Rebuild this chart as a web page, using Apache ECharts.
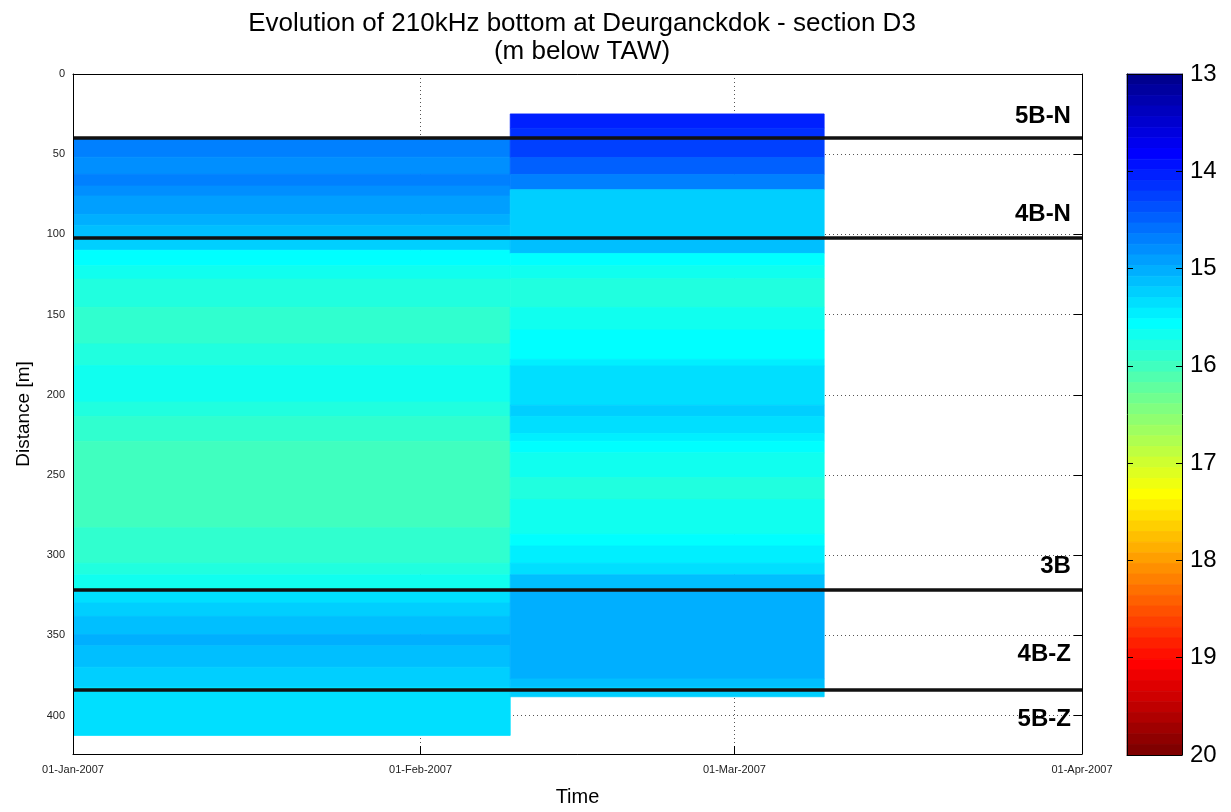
<!DOCTYPE html>
<html>
<head>
<meta charset="utf-8">
<script src="https://cdn.jsdelivr.net/npm/echarts@6/dist/echarts.min.js"></script>
<style>
html,body{margin:0;padding:0;background:#fff;}
#chart{width:1231px;height:812px;}
</style>
</head>
<body>
<div id="chart"></div>
<script>
// ---- data ----
const periodStart = ['2007-01-01', '2007-02-09'];
const periodEnd   = ['2007-02-09', '2007-03-09'];

// survey 1 (01-Jan -> 09-Feb): row edges [m] and bottom level [m below TAW]
const col1Edges = [40, 51.9, 62.6, 69.9, 76.1, 87.5, 94.3, 103.2, 109.9, 119.6,
  127.9, 145.5, 168.3, 181.8, 204.5, 213.5, 229.0, 282.9, 305.1, 312.3,
  321.5, 329.9, 338.2, 349.6, 356.5, 369.9, 382.3, 412.4];
const col1Depth = [14.70, 14.80, 14.70, 14.80, 14.91, 15.02, 15.13, 15.24, 15.57, 15.68,
  15.79, 15.90, 15.79, 15.68, 15.79, 15.90, 16.01, 15.90, 15.79, 15.68,
  15.35, 15.24, 15.13, 15.02, 15.13, 15.24, 15.35];

// survey 2 (09-Feb -> 09-Mar)
const col2Edges = [24.9, 33.8, 40, 52.0, 62.6, 72.1, 102, 111.9, 119.6, 127.6,
  145.5, 159.6, 177.9, 182.0, 206.5, 213.5, 224.2, 229.0, 236.2, 251.6,
  265.3, 287.0, 294.3, 305.1, 312.3, 321.5, 377.2, 382.3, 388.3];
const col2Depth = [14.04, 14.15, 14.26, 14.48, 14.70, 15.24, 15.13, 15.57, 15.68, 15.79,
  15.68, 15.57, 15.46, 15.35, 15.24, 15.35, 15.46, 15.57, 15.68, 15.79,
  15.68, 15.57, 15.46, 15.35, 15.13, 15.02, 15.13, 15.24];

// zone boundaries and zone labels
const boundaryDist = [39.9, 102.1, 321.7, 383.7];
const zoneNames = ['5B-N', '4B-N', '3B', '4B-Z', '5B-Z'];
const zoneLabelDist = [26.4, 87.5, 306.7, 362.1, 402.5];

// axes
const xTickDates  = ['2007-01-01', '2007-02-01', '2007-03-01', '2007-04-01'];
const xTickLabels = ['01-Jan-2007', '01-Feb-2007', '01-Mar-2007', '01-Apr-2007'];
const yMax = 424;
const cMin = 13, cMax = 20;

// ---- helpers ----
function pd(s){ const p = s.split('-').map(Number); return new Date(p[0], p[1]-1, p[2]).getTime(); }

// MATLAB jet(64)
function jet(n){
  const m = Math.ceil(n/4);
  const u = [];
  for (let i=1;i<=m;i++) u.push(i/m);
  for (let i=1;i<=m-1;i++) u.push(1);
  for (let i=m;i>=1;i--) u.push(i/m);
  const off = Math.ceil(m/2) - ((n%4)===1?1:0);
  const J = []; for (let i=0;i<n;i++) J.push([0,0,0]);
  for (let k=0;k<u.length;k++){
    const g = off + k + 1, r = g + m, b = g - m;
    if (r>=1 && r<=n) J[r-1][0] = u[k];
    if (g>=1 && g<=n) J[g-1][1] = u[k];
    if (b>=1 && b<=n) J[b-1][2] = u[k];
  }
  return J.map(c => 'rgb(' + c.map(v => Math.round(v*255)).join(',') + ')');
}
const cmap = jet(64);
const step = (cMax - cMin) / 64;
const pieces = cmap.map((c,i) => i < 63 ? {gte: cMin + i*step, lt: cMin + (i+1)*step, color: c}
                                        : {gte: cMin + i*step, lte: cMax, color: c});

// cells
const cells = [];
[[col1Edges, col1Depth], [col2Edges, col2Depth]].forEach((col, ci) => {
  const t0 = pd(periodStart[ci]), t1 = pd(periodEnd[ci]);
  col[1].forEach((v, i) => cells.push([t0, t1, col[0][i], col[0][i+1], v]));
});
// colour bar blocks
const cbar = cmap.map((c,i) => [0, 1, cMin + i*step, cMin + (i+1)*step, cMin + (i+0.5)*step]);

const xMin = pd(xTickDates[0]), xMaxT = pd(xTickDates[xTickDates.length-1]);
const labelMap = {}; xTickDates.forEach((d,i) => labelMap[pd(d)] = xTickLabels[i]);

function renderRect(params, api){
  const p0 = api.coord([api.value(0), api.value(2)]);
  const p1 = api.coord([api.value(1), api.value(3)]);
  const col = api.visual('color');
  return {type:'rect', shape:{x:p0[0], y:p0[1], width:p1[0]-p0[0], height:p1[1]-p0[1]},
          style:{fill: col, stroke: col, lineWidth: 0.8}};
}

const FONT = 'Liberation Sans, Arial, sans-serif';
const chart = echarts.init(document.getElementById('chart'), null, {renderer:'canvas'});
chart.setOption({
  animation: false,
  backgroundColor: '#fff',
  textStyle: {fontFamily: FONT},
  title: {
    text: 'Evolution of 210kHz bottom at Deurganckdok - section D3\n(m below TAW)',
    left: 577, top: 5, textAlign: 'center',
    textStyle: {fontSize: 26, fontWeight: 'normal', color: '#000', lineHeight: 28, fontFamily: FONT}
  },
  grid: [
    {left: 73, right: 149, top: 74, bottom: 57},
    {left: 1127, width: 55, top: 74, bottom: 57}
  ],
  visualMap: {type: 'piecewise', show: false, dimension: 4, seriesIndex: [0, 1], pieces: pieces},
  xAxis: [
    {gridIndex: 0, type: 'time', position: 'bottom', min: xMin, max: xMaxT, splitNumber: 3,
     minInterval: 28*86400000, z: 0,
     name: 'Time', nameLocation: 'middle', nameGap: 33,
     nameTextStyle: {fontSize: 20, color: '#000', fontFamily: FONT},
     axisLine: {show: true, onZero: false, lineStyle: {color: '#000', width: 1}},
     axisTick: {show: true, inside: true, length: 8, lineStyle: {color: '#000'}},
     axisLabel: {show: true, margin: 10, fontSize: 11, color: '#222', fontFamily: FONT,
       showMinLabel: true, showMaxLabel: true, hideOverlap: false,
       formatter: v => labelMap[v] !== undefined ? labelMap[v] : ''},
     splitLine: {show: true, lineStyle: {color: '#555', width: 1, type: [1, 3]}}},
    {gridIndex: 0, type: 'time', position: 'top', min: xMin, max: xMaxT, splitNumber: 3,
     minInterval: 28*86400000, z: 5,
     axisLine: {show: true, onZero: false, lineStyle: {color: '#000', width: 1}},
     axisTick: {show: false},
     axisLabel: {show: false}, splitLine: {show: false}},
    {gridIndex: 1, type: 'value', min: 0, max: 1, position: 'bottom', z: 5,
     axisLine: {show: true, onZero: false, lineStyle: {color: '#000'}}, axisTick: {show: false},
     axisLabel: {show: false}, splitLine: {show: false}},
    {gridIndex: 1, type: 'value', min: 0, max: 1, position: 'top', z: 5,
     axisLine: {show: true, onZero: false, lineStyle: {color: '#000'}}, axisTick: {show: false},
     axisLabel: {show: false}, splitLine: {show: false}}
  ],
  yAxis: [
    {gridIndex: 0, type: 'value', position: 'left', inverse: true, min: 0, max: yMax, interval: 50, z: 5,
     name: 'Distance [m]', nameLocation: 'middle', nameGap: 40, nameRotate: 90,
     nameTextStyle: {fontSize: 19, color: '#000', fontFamily: FONT},
     axisLine: {show: true, onZero: false, lineStyle: {color: '#000', width: 1}},
     axisTick: {show: false},
     axisLabel: {show: true, margin: 8, fontSize: 11, color: '#222', fontFamily: FONT, showMaxLabel: false},
     splitLine: {show: false}},
    {gridIndex: 0, type: 'value', position: 'right', inverse: true, min: 0, max: yMax, interval: 50, z: 0,
     axisLine: {show: true, onZero: false, lineStyle: {color: '#000', width: 1}},
     axisTick: {show: true, inside: true, length: 8, lineStyle: {color: '#000'}},
     axisLabel: {show: false},
     splitLine: {show: true, lineStyle: {color: '#555', width: 1, type: [1, 3]}}},
    {gridIndex: 1, type: 'value', position: 'right', inverse: true, min: cMin, max: cMax, interval: 1, z: 5,
     axisLine: {show: true, onZero: false, lineStyle: {color: '#000'}},
     axisTick: {show: true, inside: true, length: 6, lineStyle: {color: '#000'}},
     axisLabel: {show: true, margin: 8, fontSize: 24, color: '#000', fontFamily: FONT},
     splitLine: {show: false}},
    {gridIndex: 1, type: 'value', position: 'left', inverse: true, min: cMin, max: cMax, interval: 1, z: 5,
     axisLine: {show: true, onZero: false, lineStyle: {color: '#000'}},
     axisTick: {show: true, inside: true, length: 6, lineStyle: {color: '#000'}},
     axisLabel: {show: false}, splitLine: {show: false}}
  ],
  series: [
    {type: 'custom', name: 'bottom', xAxisIndex: 0, yAxisIndex: 0, z: 2, silent: true,
     encode: {x: [0, 1], y: [2, 3]}, renderItem: renderRect, data: cells, clip: true},
    {type: 'custom', name: 'colorbar', xAxisIndex: 2, yAxisIndex: 2, z: 2, silent: true,
     encode: {x: [0, 1], y: [2, 3]}, renderItem: renderRect, data: cbar},
    {type: 'scatter', name: 'zones', xAxisIndex: 0, yAxisIndex: 0, z: 3, silent: true,
     symbolSize: 0.1, itemStyle: {color: '#000', opacity: 1}, clip: false,
     data: zoneLabelDist.map(d => [xMaxT, d]),
     label: {show: true, position: 'left', distance: 11, fontSize: 24, fontWeight: 'bold',
       color: '#000', opacity: 1, fontFamily: FONT, formatter: p => zoneNames[p.dataIndex]},
     markLine: {silent: true, symbol: ['none', 'none'], animation: false,
       label: {show: false},
       lineStyle: {color: '#111', width: 3.5, type: 'solid'},
       data: boundaryDist.map(d => ({yAxis: d}))}}
  ]
});
</script>
</body>
</html>
